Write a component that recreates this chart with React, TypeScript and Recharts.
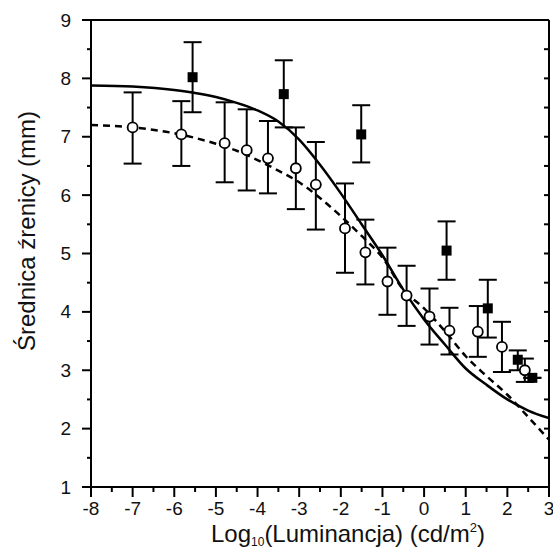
import React from 'react';
import { ComposedChart, Line, Scatter, XAxis, YAxis, ErrorBar } from 'recharts';

// Fitted curves
const curveX = [-8, -7, -6, -5.5, -5, -4.5, -4, -3.5, -3, -2.5, -2, -1.5, -1, -0.5, 0, 0.5, 1, 1.5, 2, 2.5, 3];
const solidY = [7.88, 7.86, 7.8, 7.75, 7.68, 7.58, 7.45, 7.26, 6.95, 6.52, 6.03, 5.5, 4.97, 4.38, 3.87, 3.44, 3.03, 2.75, 2.5, 2.31, 2.18];
const dashedY = [7.2, 7.16, 7.06, 6.98, 6.88, 6.76, 6.6, 6.42, 6.22, 5.95, 5.64, 5.3, 4.93, 4.38, 4.06, 3.67, 3.24, 2.9, 2.58, 2.2, 1.81];

// Open circles with error bars
const circleX = [-7, -5.83, -4.79, -4.26, -3.75, -3.08, -2.6, -1.9, -1.41, -0.88, -0.42, 0.13, 0.61, 1.29, 1.87, 2.42];
const circleY = [7.16, 7.04, 6.89, 6.77, 6.63, 6.46, 6.18, 5.43, 5.02, 4.52, 4.28, 3.92, 3.68, 3.66, 3.4, 3.0];
const circleHi = [7.76, 7.61, 7.59, 7.47, 7.27, 7.16, 6.91, 6.2, 5.58, 5.1, 4.79, 4.4, 4.07, 4.1, 3.83, 3.2];
const circleLo = [6.54, 6.5, 6.22, 6.08, 6.03, 5.76, 5.41, 4.67, 4.47, 3.95, 3.76, 3.44, 3.27, 3.23, 2.97, 2.8];

// Filled squares with error bars
const squareX = [-5.56, -3.37, -1.51, 0.54, 1.53, 2.25, 2.6];
const squareY = [8.02, 7.73, 7.04, 5.05, 4.06, 3.18, 2.87];
const squareHi = [8.62, 8.31, 7.54, 5.55, 4.55, 3.34, 2.87];
const squareLo = [7.42, 7.16, 6.56, 4.55, 3.56, 3.0, 2.87];

const xTicks = [-8, -7.5, -7, -6.5, -6, -5.5, -5, -4.5, -4, -3.5, -3, -2.5, -2, -1.5, -1, -0.5, 0, 0.5, 1, 1.5, 2, 2.5, 3];
const yTicks = [1, 1.5, 2, 2.5, 3, 3.5, 4, 4.5, 5, 5.5, 6, 6.5, 7, 7.5, 8, 8.5, 9];

const solidData = curveX.map((x, i) => ({ x, y: solidY[i] }));
const dashedData = curveX.map((x, i) => ({ x, y: dashedY[i] }));
const circleData = circleX.map((x, i) => ({ x, y: circleY[i], err: [circleY[i] - circleLo[i], circleHi[i] - circleY[i]] }));
const squareData = squareX.map((x, i) => ({ x, y: squareY[i], err: [squareY[i] - squareLo[i], squareHi[i] - squareY[i]] }));

const FONT = '"Liberation Sans", Arial, sans-serif';
const isMajor = (v: number) => Math.abs(v - Math.round(v)) < 1e-6;

const BottomTick = (props: any) => {
  const { x, y, payload } = props;
  const v = payload.value;
  const major = isMajor(v);
  return (
    <g>
      <line x1={x} x2={x} y1={y} y2={y + (major ? 10 : 5)} stroke="#000" strokeWidth={2} />
      {major && (
        <text x={x} y={y + 21} textAnchor="middle" dominantBaseline="central" fontSize={19} fontFamily={FONT} fill="#111">
          {String(v)}
        </text>
      )}
    </g>
  );
};

const TopTick = (props: any) => {
  const { x, y, payload } = props;
  const major = isMajor(payload.value);
  return <line x1={x} x2={x} y1={y} y2={y - (major ? 7 : 3)} stroke="#000" strokeWidth={2} />;
};

const LeftTick = (props: any) => {
  const { x, y, payload } = props;
  const v = payload.value;
  const major = isMajor(v);
  return (
    <g>
      <line x1={x - (major ? 9 : 4)} x2={x} y1={y} y2={y} stroke="#000" strokeWidth={2} />
      {major && (
        <text x={x - 20} y={y} textAnchor="end" dominantBaseline="central" fontSize={19} fontFamily={FONT} fill="#111">
          {String(v)}
        </text>
      )}
    </g>
  );
};

const RightTick = (props: any) => {
  const { x, y } = props;
  return <line x1={x - 5} x2={x} y1={y} y2={y} stroke="#000" strokeWidth={2} />;
};

const XLabel = (props: any) => {
  const vb = props.viewBox || { x: 91, y: 487, width: 458, height: 63 };
  return (
    <text x={vb.x + vb.width / 2 + 28} y={vb.y + 55} textAnchor="middle" fontSize={24} fontFamily={FONT} fill="#111">
      <tspan>Log</tspan>
      <tspan fontSize={12} dy={4}>10</tspan>
      <tspan dy={-4}>(Luminancja) (cd/m</tspan>
      <tspan fontSize={13} dy={-10}>2</tspan>
      <tspan dy={10}>)</tspan>
    </text>
  );
};

const YLabel = () => (
  <text
    x={26}
    y={231}
    transform="rotate(-90 26 231)"
    textAnchor="middle"
    dominantBaseline="central"
    fontSize={24}
    fontFamily={FONT}
    fill="#111"
  >
    Średnica źrenicy (mm)
  </text>
);

const Circle = (props: any) => {
  const { cx, cy } = props;
  return <circle cx={cx} cy={cy} r={5} fill="#fff" stroke="#000" strokeWidth={1.8} />;
};

const Square = (props: any) => {
  const { cx, cy } = props;
  return <rect x={cx - 5} y={cy - 5} width={10} height={10} fill="#000" />;
};

export default function App() {
  return (
    <div style={{ position: 'absolute', left: 0, top: 0, background: '#fff' }}>
      <ComposedChart width={553} height={550} margin={{ top: 19, right: 3, bottom: 0, left: 0 }}>
        <XAxis
          xAxisId="b"
          dataKey="x"
          type="number"
          domain={[-8, 3]}
          ticks={xTicks}
          interval={0}
          height={63}
          tickSize={0}
          tickMargin={0}
          tickLine={false}
          tick={<BottomTick />}
          axisLine={{ stroke: '#000', strokeWidth: 2 }}
          allowDataOverflow
          label={<XLabel />}
        />
        <XAxis
          xAxisId="t"
          orientation="top"
          type="number"
          domain={[-8, 3]}
          ticks={xTicks}
          interval={0}
          height={1}
          tickSize={0}
          tickMargin={0}
          tickLine={false}
          tick={<TopTick />}
          axisLine={{ stroke: '#000', strokeWidth: 2 }}
          allowDataOverflow
        />
        <YAxis
          yAxisId="l"
          dataKey="y"
          type="number"
          domain={[1, 9]}
          ticks={yTicks}
          interval={0}
          width={91}
          tickSize={0}
          tickMargin={0}
          tickLine={false}
          tick={<LeftTick />}
          axisLine={{ stroke: '#000', strokeWidth: 2 }}
          allowDataOverflow
          label={<YLabel />}
        />
        <YAxis
          yAxisId="r"
          orientation="right"
          type="number"
          domain={[1, 9]}
          ticks={yTicks}
          interval={0}
          width={1}
          tickSize={0}
          tickMargin={0}
          tickLine={false}
          tick={<RightTick />}
          axisLine={{ stroke: '#000', strokeWidth: 2 }}
          allowDataOverflow
        />
        <Line
          xAxisId="b"
          yAxisId="l"
          data={solidData}
          dataKey="y"
          type="monotone"
          stroke="#000"
          strokeWidth={2.5}
          dot={false}
          activeDot={false}
          isAnimationActive={false}
        />
        <Line
          xAxisId="b"
          yAxisId="l"
          data={dashedData}
          dataKey="y"
          type="monotone"
          stroke="#000"
          strokeWidth={2.5}
          strokeDasharray="7 5"
          dot={false}
          activeDot={false}
          isAnimationActive={false}
        />
        <Scatter xAxisId="b" yAxisId="l" data={circleData} dataKey="y" shape={<Circle />} isAnimationActive={false}>
          <ErrorBar dataKey="err" direction="y" width={9} stroke="#000" strokeWidth={2} />
        </Scatter>
        <Scatter xAxisId="b" yAxisId="l" data={squareData} dataKey="y" shape={<Square />} isAnimationActive={false}>
          <ErrorBar dataKey="err" direction="y" width={9} stroke="#000" strokeWidth={2} />
        </Scatter>
      </ComposedChart>
    </div>
  );
}
